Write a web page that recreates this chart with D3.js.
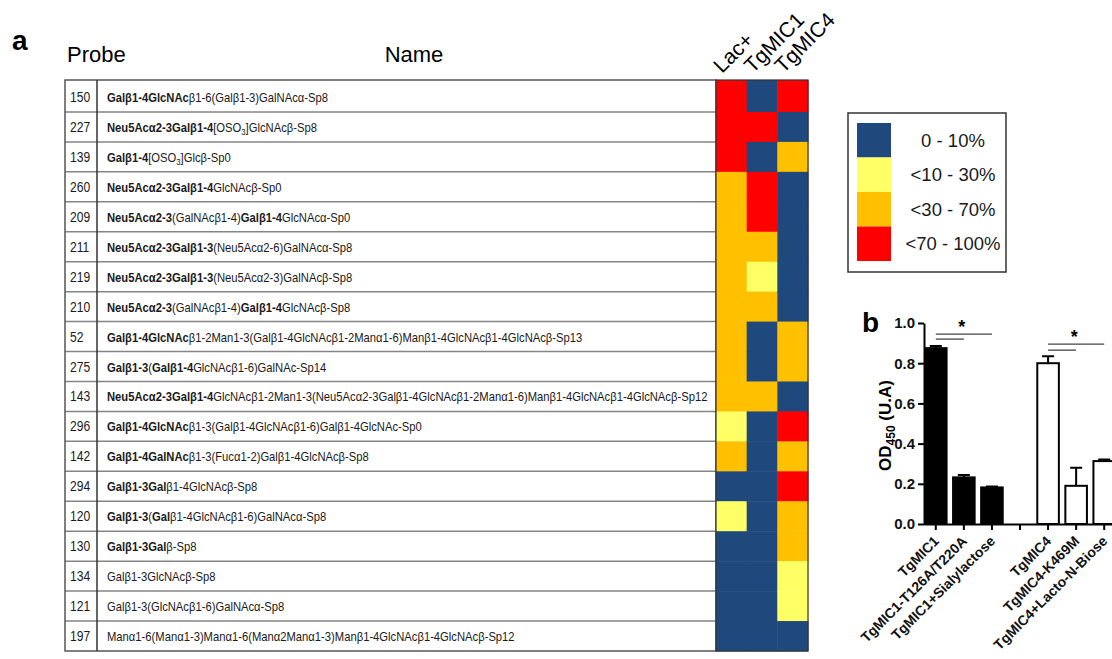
<!DOCTYPE html>
<html>
<head>
<meta charset="utf-8">
<script src="https://cdn.jsdelivr.net/npm/d3@7"></script>
<style>
  body { margin: 0; background: #fff; }
  svg { font-family: "Liberation Sans", Arial, sans-serif; }
</style>
</head>
<body>
<svg id="chart" width="1112" height="659"></svg>
<script>
// ---- panel a: glycan array table + heatmap ----
const probes = [150, 227, 139, 260, 209, 211, 219, 210, 52, 275, 143, 296, 142, 294, 120, 130, 134, 121, 197];

// **bold**, {sub}
const names = [
  "**Galβ1-4GlcNAc**β1-6(Galβ1-3)GalNAcα-Sp8",
  "**Neu5Acα2-3Galβ1-4**[OSO{3}]GlcNAcβ-Sp8",
  "**Galβ1-4**[OSO{3}]Glcβ-Sp0",
  "**Neu5Acα2-3Galβ1-4**GlcNAcβ-Sp0",
  "**Neu5Acα2-3**(GalNAcβ1-4)**Galβ1-4**GlcNAcα-Sp0",
  "**Neu5Acα2-3Galβ1-3**(Neu5Acα2-6)GalNAcα-Sp8",
  "**Neu5Acα2-3Galβ1-3**(Neu5Acα2-3)GalNAcβ-Sp8",
  "**Neu5Acα2-3**(GalNAcβ1-4)**Galβ1-4**GlcNAcβ-Sp8",
  "**Galβ1-4GlcNAc**β1-2Man1-3(Galβ1-4GlcNAcβ1-2Manα1-6)Manβ1-4GlcNAcβ1-4GlcNAcβ-Sp13",
  "**Galβ1-3**(**Galβ1-4**GlcNAcβ1-6)GalNAc-Sp14",
  "**Neu5Acα2-3Galβ1-4**GlcNAcβ1-2Man1-3(Neu5Acα2-3Galβ1-4GlcNAcβ1-2Manα1-6)Manβ1-4GlcNAcβ1-4GlcNAcβ-Sp12",
  "**Galβ1-4GlcNAc**β1-3(Galβ1-4GlcNAcβ1-6)Galβ1-4GlcNAc-Sp0",
  "**Galβ1-4GalNAc**β1-3(Fucα1-2)Galβ1-4GlcNAcβ-Sp8",
  "**Galβ1-3Gal**β1-4GlcNAcβ-Sp8",
  "**Galβ1-3**(**Gal**β1-4GlcNAcβ1-6)GalNAcα-Sp8",
  "**Galβ1-3Gal**β-Sp8",
  "Galβ1-3GlcNAcβ-Sp8",
  "Galβ1-3(GlcNAcβ1-6)GalNAcα-Sp8",
  "Manα1-6(Manα1-3)Manα1-6(Manα2Manα1-3)Manβ1-4GlcNAcβ1-4GlcNAcβ-Sp12"
];

const columns = ["Lac+", "TgMIC1", "TgMIC4"];
// binding class: 0 = 0-10%, 1 = <10-30%, 2 = <30-70%, 3 = <70-100%
const lacLevels  = [3, 3, 3, 2, 2, 2, 2, 2, 2, 2, 2, 1, 2, 0, 1, 0, 0, 0, 0];
const mic1Levels = [0, 3, 0, 3, 3, 2, 1, 2, 0, 0, 2, 0, 0, 0, 0, 0, 0, 0, 0];
const mic4Levels = [3, 0, 2, 0, 0, 0, 0, 0, 2, 2, 0, 3, 2, 3, 2, 2, 1, 1, 0];

const legendLabels = ["0 - 10%", "<10 - 30%", "<30 - 70%", "<70 - 100%"];

// ---- panel b: ELISA ----
const conditions = ["TgMIC1", "TgMIC1-T126A/T220A", "TgMIC1+Sialylactose", "",
                    "TgMIC4", "TgMIC4-K469M", "TgMIC4+Lacto-N-Biose"];
const conditionGroup = ["MIC1", "MIC1", "MIC1", null, "MIC4", "MIC4", "MIC4"];
const odMeans  = [0.875, 0.232, 0.182, null, 0.800, 0.190, 0.313];
const odErrors = [0.010, 0.012, 0.005, null, 0.035, 0.090, 0.008];
const yTicks = [0, 0.2, 0.4, 0.6, 0.8, 1.0];
// significance bars: [from, to, level]
const sigLinks = [[0, 2, 0.945], [0, 1, 0.92], [4, 6, 0.895], [4, 5, 0.865]];

const svg = d3.select("#chart");
svg.append("rect").attr("width", 1112).attr("height", 659).attr("fill", "#fff");

const levelColor = d3.scaleOrdinal()
    .domain([0, 1, 2, 3])
    .range(["#1f487c", "#ffff66", "#ffc000", "#ff0000"]);

// ===== panel a =====
const tableLeft = 65, probeDiv = 97, tableRight = 716;
const rowY = d3.scaleBand().domain(d3.range(probes.length)).range([82, 651]);
const colX = d3.scaleBand().domain(columns).range([716, 808]);

svg.append("text").attr("x", 12).attr("y", 50)
    .attr("font-size", 28).attr("font-weight", "bold").text("a");
svg.append("text").attr("x", 67).attr("y", 62).attr("font-size", 22).text("Probe");
svg.append("text").attr("x", 414).attr("y", 62).attr("font-size", 22)
    .attr("text-anchor", "middle").text("Name");

const table = svg.append("g");

// row separators
table.selectAll(".rowline")
    .data(d3.range(1, probes.length))
    .enter().append("line")
    .attr("x1", tableLeft).attr("x2", tableRight)
    .attr("y1", d => rowY(d)).attr("y2", d => rowY(d))
    .attr("stroke", "#858585").attr("stroke-width", 1.5);

table.append("rect")
    .attr("x", tableLeft).attr("y", rowY.range()[0] - 2)
    .attr("width", tableRight - tableLeft)
    .attr("height", rowY.range()[1] - rowY.range()[0] + 2)
    .attr("fill", "none").attr("stroke", "#555").attr("stroke-width", 1.5);

table.append("line")
    .attr("x1", probeDiv).attr("x2", probeDiv)
    .attr("y1", rowY.range()[0] - 2).attr("y2", rowY.range()[1])
    .attr("stroke", "#333").attr("stroke-width", 1.5);

const narrow = '"Liberation Sans Narrow", "Arial Narrow", "Liberation Sans", Arial, sans-serif';

const probeText = table.selectAll(".probe")
    .data(probes)
    .enter().append("text")
    .attr("font-family", narrow)
    .attr("font-size", 14)
    .attr("fill", "#1a1a1a")
    .text(d => d);

const nameText = table.selectAll(".name")
    .data(names)
    .enter().append("text")
    .attr("font-family", narrow)
    .attr("font-size", 13)
    .attr("fill", "#1a1a1a")
    .each(function(d) {
        const t = d3.select(this);
        const parts = d.split(/(\*\*[^*]+\*\*|\{[^}]+\})/).filter(p => p.length);
        let lift = 0;
        parts.forEach(p => {
            if (p.startsWith("**")) {
                t.append("tspan").attr("font-weight", "bold")
                    .attr("dy", lift ? -lift : null).text(p.slice(2, -2));
                lift = 0;
            } else if (p.startsWith("{")) {
                t.append("tspan").attr("font-size", 9).attr("dy", 3).text(p.slice(1, -1));
                lift = 3;
            } else {
                t.append("tspan").attr("dy", lift ? -lift : null).text(p);
                lift = 0;
            }
        });
    });

// squeeze to the narrow look of the original if no narrow face is around
const widest = d3.max(nameText.nodes(), n => n.getComputedTextLength());
const squeeze = Math.min(1, 601 / widest);

nameText.attr("transform", (d, i) =>
    `translate(107,${rowY(i) + rowY.bandwidth() / 2 + 5}) scale(${squeeze},1)`);
probeText.attr("transform", (d, i) =>
    `translate(70,${rowY(i) + rowY.bandwidth() / 2 + 5}) scale(${squeeze},1)`);

// heatmap cells
const cells = [];
[lacLevels, mic1Levels, mic4Levels].forEach((levels, c) => {
    levels.forEach((v, r) => cells.push({ col: columns[c], row: r, level: v }));
});

const heat = svg.append("g");
heat.selectAll("rect")
    .data(cells)
    .enter().append("rect")
    .attr("x", d => colX(d.col))
    .attr("y", d => d.row === 0 ? rowY(0) - 2 : rowY(d.row))
    .attr("width", colX.bandwidth() + 0.5)
    .attr("height", d => rowY.bandwidth() + (d.row === 0 ? 2.5 : 0.5))
    .attr("fill", d => levelColor(d.level));

heat.append("rect")
    .attr("x", colX.range()[0]).attr("y", rowY.range()[0] - 2)
    .attr("width", colX.range()[1] - colX.range()[0])
    .attr("height", rowY.range()[1] - rowY.range()[0] + 2)
    .attr("fill", "none").attr("stroke", "#333").attr("stroke-width", 1.2);

heat.selectAll(".colLabel")
    .data(columns)
    .enter().append("text")
    .attr("transform", d => `translate(${colX(d) + 6},74) rotate(-45)`)
    .attr("font-size", 21)
    .text(d => d);

// legend
const legend = svg.append("g");
legend.append("rect")
    .attr("x", 848).attr("y", 113).attr("width", 158).attr("height", 159)
    .attr("fill", "#fff").attr("stroke", "#333").attr("stroke-width", 1.5);

const legendY = d3.scaleBand().domain(d3.range(legendLabels.length)).range([123, 261]);
legend.selectAll(".swatch")
    .data(legendLabels)
    .enter().append("rect")
    .attr("x", 857).attr("y", (d, i) => legendY(i))
    .attr("width", 34).attr("height", legendY.bandwidth())
    .attr("fill", (d, i) => levelColor(i));

legend.selectAll(".ltext")
    .data(legendLabels)
    .enter().append("text")
    .attr("x", 953)
    .attr("y", (d, i) => legendY(i) + legendY.bandwidth() / 2 + 6.5)
    .attr("text-anchor", "middle")
    .attr("font-size", 18.5)
    .attr("fill", "#1a1a1a")
    .text(d => d);

// ===== panel b =====
const x = d3.scaleBand().domain(d3.range(conditions.length)).range([924, 1116]).paddingInner(0.16);
const y = d3.scaleLinear().domain([0, 1]).range([524, 323]);
const groupFill = d3.scaleOrdinal().domain(["MIC1", "MIC4"]).range(["#000", "#fff"]);

svg.append("text").attr("x", 862).attr("y", 332)
    .attr("font-size", 28).attr("font-weight", "bold").text("b");

const bars = svg.append("g");
const barData = odMeans.map((v, i) => ({ i, v, e: odErrors[i], g: conditionGroup[i] }))
    .filter(d => d.v !== null);

// error bars (upper only)
bars.selectAll(".err")
    .data(barData)
    .enter().append("path")
    .attr("d", d => {
        const cx = x(d.i) + x.bandwidth() / 2;
        return `M${cx},${y(d.v)}V${y(d.v + d.e)}M${cx - 6},${y(d.v + d.e)}H${cx + 6}`;
    })
    .attr("stroke", "#000").attr("stroke-width", 2).attr("fill", "none");

bars.selectAll(".bar")
    .data(barData)
    .enter().append("rect")
    .attr("x", d => x(d.i) + 1)
    .attr("y", d => y(d.v))
    .attr("width", x.bandwidth() - 2)
    .attr("height", d => y(0) - y(d.v))
    .attr("fill", d => groupFill(d.g))
    .attr("stroke", "#000").attr("stroke-width", 2);

// axes
const yAxis = svg.append("g")
    .attr("transform", `translate(${x.range()[0]},0)`)
    .call(d3.axisLeft(y).tickValues(yTicks).tickFormat(d3.format(".1f")).tickSize(6).tickSizeOuter(0));
yAxis.selectAll("text").attr("font-size", 15).attr("font-weight", "bold")
    .attr("font-family", "Liberation Sans, Arial, sans-serif").attr("fill", "#111");
yAxis.selectAll("line, path").attr("stroke", "#000").attr("stroke-width", 2);

const xAxis = svg.append("g")
    .attr("transform", `translate(0,${y(0)})`)
    .call(d3.axisBottom(x).tickFormat(i => conditions[i]).tickSize(6).tickSizeOuter(0));
xAxis.selectAll("line, path").attr("stroke", "#000").attr("stroke-width", 2);
xAxis.selectAll("text")
    .attr("font-size", 14).attr("font-weight", "bold")
    .attr("font-family", "Liberation Sans, Arial, sans-serif").attr("fill", "#111")
    .attr("text-anchor", "end")
    .attr("x", 0).attr("y", 0).attr("dx", null).attr("dy", null)
    .attr("transform", "translate(4,18) rotate(-45)");

svg.append("text")
    .attr("transform", `translate(891,${(y(0) + y(1)) / 2 + 2}) rotate(-90)`)
    .attr("text-anchor", "middle")
    .attr("font-size", 17).attr("font-weight", "bold")
    .call(t => {
        t.append("tspan").text("OD");
        t.append("tspan").attr("font-size", 12).attr("dy", 4).text("450");
        t.append("tspan").attr("dy", -4).text(" (U.A)");
    });

// significance
const sig = svg.append("g");
sig.selectAll("line")
    .data(sigLinks)
    .enter().append("line")
    .attr("x1", d => x(d[0]) + x.bandwidth() / 2)
    .attr("x2", d => x(d[1]) + x.bandwidth() / 2)
    .attr("y1", d => y(d[2])).attr("y2", d => y(d[2]))
    .attr("stroke", "#444").attr("stroke-width", 1.3);

sig.selectAll("text")
    .data(sigLinks.filter((d, i) => i % 2 === 0))
    .enter().append("text")
    .attr("x", d => x(d[0] + 1) + x.bandwidth() / 2 - 2)
    .attr("y", d => y(d[2]) - 1)
    .attr("text-anchor", "middle")
    .attr("font-size", 18).attr("font-weight", "bold")
    .text("*");
</script>
</body>
</html>
